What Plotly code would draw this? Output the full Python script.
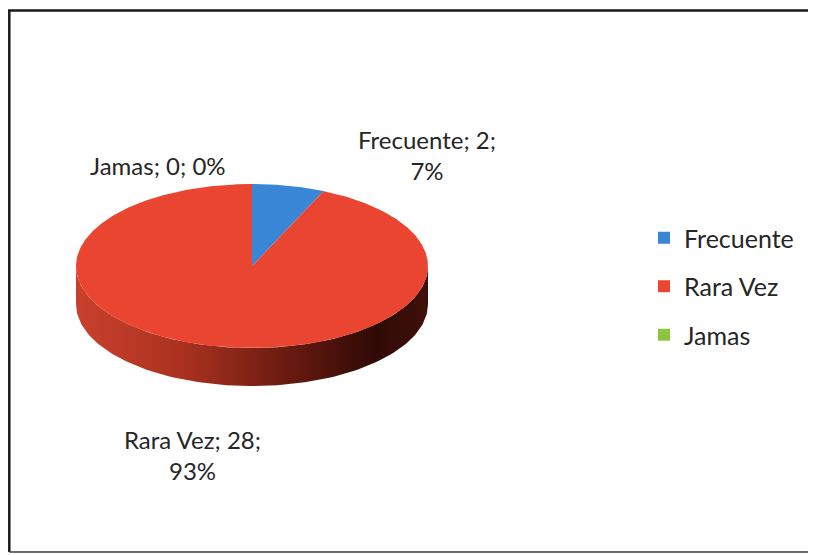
import numpy as np
import plotly.graph_objects as go

# ---- data ----
categories = ["Frecuente", "Rara Vez", "Jamas"]
values = [2, 28, 0]
percents = [7, 93, 0]

# ---- styles ----
top_colors = ["#3a86d6", "#ea4530", "#8cc43f"]
wall_scales = {
    "Frecuente": [[0, "#2a63a8"], [0.5, "#1d4677"], [1, "#0f2440"]],
    "Rara Vez": [[0, "#c9402c"], [0.3, "#ab3220"], [0.6, "#6a1a10"], [0.85, "#300a06"], [1, "#401009"]],
    "Jamas": [[0, "#6e9e30"], [1, "#2e4414"]],
}
# the page body adds an 8px offset, so the figure is drawn 8px smaller
W, H = 808, 547
CX, CY, RX, RY, DEPTH = 244, 258, 176, 82, 38
FONT = "Lato, 'Open Sans', sans-serif"
TXT = "#262626"

fig = go.Figure()

total = sum(values)
starts = np.cumsum([0] + values[:-1]) / total * 360.0
ends = np.cumsum(values) / total * 360.0


def pt(t_deg, dy=0.0):
    t = np.radians(t_deg)
    return CX + RX * np.sin(t), CY - RY * np.cos(t) + dy


# side wall (visible front half: 90..270 deg clockwise from top)
for cat, a0, a1 in zip(categories, starts, ends):
    lo, hi = max(a0, 90.0), min(a1, 270.0)
    if hi <= lo:
        continue
    ts = np.linspace(lo, hi, 120)
    xt, yt = pt(ts)
    xb, yb = pt(ts[::-1], DEPTH)
    fig.add_trace(go.Scatter(
        x=np.concatenate([xt, xb, xt[:1]]), y=np.concatenate([yt, yb, yt[:1]]),
        mode="lines", line=dict(width=0), fill="toself",
        fillgradient=dict(type="horizontal", colorscale=wall_scales[cat]),
        showlegend=False, hoverinfo="skip"))

# top face wedges
for cat, a0, a1, col in zip(categories, starts, ends, top_colors):
    if a1 - a0 <= 0:
        continue
    ts = np.linspace(a0, a1, max(int((a1 - a0) * 2), 4))
    xs, ys = pt(ts)
    fig.add_trace(go.Scatter(
        x=np.concatenate([[CX], xs, [CX]]), y=np.concatenate([[CY], ys, [CY]]),
        mode="lines", line=dict(width=0), fill="toself", fillcolor=col,
        showlegend=False, hoverinfo="skip"))

# legend entries
for cat, col in zip(categories, top_colors):
    fig.add_trace(go.Scatter(
        x=[None], y=[None], mode="markers", name=cat, legendgroup=cat,
        marker=dict(symbol="square", size=12, color=col)))

# data labels
label_pos = {"Frecuente": (419, 147), "Rara Vez": (184, 447), "Jamas": (150, 157)}
for cat, v, p in zip(categories, values, percents):
    if cat == "Jamas":
        text = f"{cat}; {v}; {p}%"
    else:
        text = f"{cat}; {v};<br>{p}%"
    x, y = label_pos[cat]
    fig.add_annotation(x=x, y=y, xref="x", yref="y", text=text, showarrow=False,
                       font=dict(family=FONT, size=24, color=TXT), align="center")

# chart border (top, left, bottom edges; right edge is outside the picture)
border = dict(color="#1a1a1a", width=2.5)
fig.add_shape(type="line", x0=0, y0=2.5, x1=W, y1=2.5, xref="x", yref="y", line=border, layer="above")
fig.add_shape(type="line", x0=1.3, y0=2.5, x1=1.3, y1=544, xref="x", yref="y", line=border, layer="above")
fig.add_shape(type="line", x0=1.3, y0=544, x1=W, y1=544, xref="x", yref="y",
              line=dict(color="#3a3a3a", width=1.5), layer="above")

fig.update_layout(
    width=W, height=H, margin=dict(l=0, r=0, t=0, b=0),
    paper_bgcolor="white", plot_bgcolor="white",
    xaxis=dict(range=[0, W], visible=False, fixedrange=True),
    yaxis=dict(range=[H, 0], visible=False, fixedrange=True),
    legend=dict(x=636 / W, y=1 - 207 / H, xanchor="left", yanchor="top",
                font=dict(family=FONT, size=25, color=TXT),
                tracegroupgap=13, bgcolor="rgba(0,0,0,0)"),
    showlegend=True,
)

fig.write_html("out.html")
